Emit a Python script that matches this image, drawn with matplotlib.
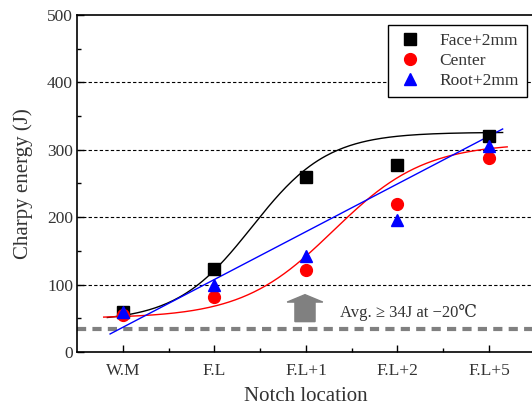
import numpy as np
import matplotlib.pyplot as plt

plt.rcParams['font.family'] = ['Liberation Serif', 'DejaVu Serif']
plt.rcParams['text.color'] = '#333333'
plt.rcParams['axes.labelcolor'] = '#333333'
plt.rcParams['xtick.labelcolor'] = '#333333'
plt.rcParams['ytick.labelcolor'] = '#333333'

locations = ['W.M', 'F.L', 'F.L+1', 'F.L+2', 'F.L+5']
face = [60, 123, 260, 277, 320]
center = [55, 82, 122, 220, 288]
root = [60, 100, 143, 196, 305]

# fitted curve parameters (Boltzmann for face/center, linear for root)
face_fit = (45, 326, 1.41, 0.415)
center_fit = (50, 310, 2.3, 0.5)
root_fit = (36.6, 70.9)
face_span = (-0.17, 4.15)
center_span = (-0.21, 4.2)
root_span = (-0.14, 4.15)

req_energy = 34


def boltz(x, p):
    a1, a2, x0, dx = p
    return a2 + (a1 - a2) / (1 + np.exp((x - x0) / dx))


fig = plt.figure(figsize=(5.32, 4.05), dpi=100)
ax = fig.add_axes([0.145, 0.131, 0.86, 0.832])

xs = np.arange(len(locations))

for yv in [100, 200, 300, 400]:
    ax.axhline(yv, color='k', lw=0.8, ls=(0, (3, 2)), zorder=1)

xf = np.linspace(*face_span, 200)
ax.plot(xf, boltz(xf, face_fit), color='k', lw=1, zorder=2)
xc = np.linspace(*center_span, 200)
ax.plot(xc, boltz(xc, center_fit), color='red', lw=1, zorder=2)
xr = np.linspace(*root_span, 200)
ax.plot(xr, root_fit[0] + root_fit[1] * xr, color='blue', lw=1, zorder=2)

ax.plot(xs, face, 's', color='k', ms=8, ls='none', label='Face+2mm', zorder=3)
ax.plot(xs, center, 'o', color='red', ms=8.5, ls='none', label='Center', zorder=3)
ax.plot(xs, root, '^', color='blue', ms=9, ls='none', label='Root+2mm', zorder=4)

ax.axhline(req_energy, color='#808080', lw=3, ls=(0, (2.2, 1.5)), zorder=1)
ax.arrow(1.99, 45, 0, 29, width=0.22, head_width=0.39, head_length=11,
         length_includes_head=False, color='#808080', zorder=2)
ax.text(2.37, 58, 'Avg. \u2265 34J at \u221220\u2103', fontsize=12,
        va='center')

ax.set_xlim(-0.5, 4.5)
ax.set_ylim(0, 500)
ax.set_xticks(xs)
ax.set_xticks(xs[:-1] + 0.5, minor=True)
ax.set_xticklabels(locations)
ax.set_yticks(np.arange(0, 501, 100))
ax.set_yticks(np.arange(50, 500, 100), minor=True)
ax.tick_params(direction='in', labelsize=12.5, length=5, width=1, pad=8)
ax.tick_params(which='minor', direction='in', length=3, width=1)
ax.tick_params(axis='y', pad=3)
for s in ax.spines.values():
    s.set_linewidth(1.2)

ax.set_xlabel('Notch location', fontsize=15, labelpad=6)
ax.set_ylabel('Charpy energy (J)', fontsize=15, labelpad=10)

leg = ax.legend(loc='upper right', bbox_to_anchor=(0.983, 0.97), fontsize=12.5,
                frameon=True, fancybox=False, edgecolor='k', framealpha=1,
                handletextpad=0.9, borderpad=0.45, labelspacing=0.22,
                handlelength=1.6, borderaxespad=0)
leg.get_frame().set_linewidth(1)

fig.savefig('out.png', dpi=100)
